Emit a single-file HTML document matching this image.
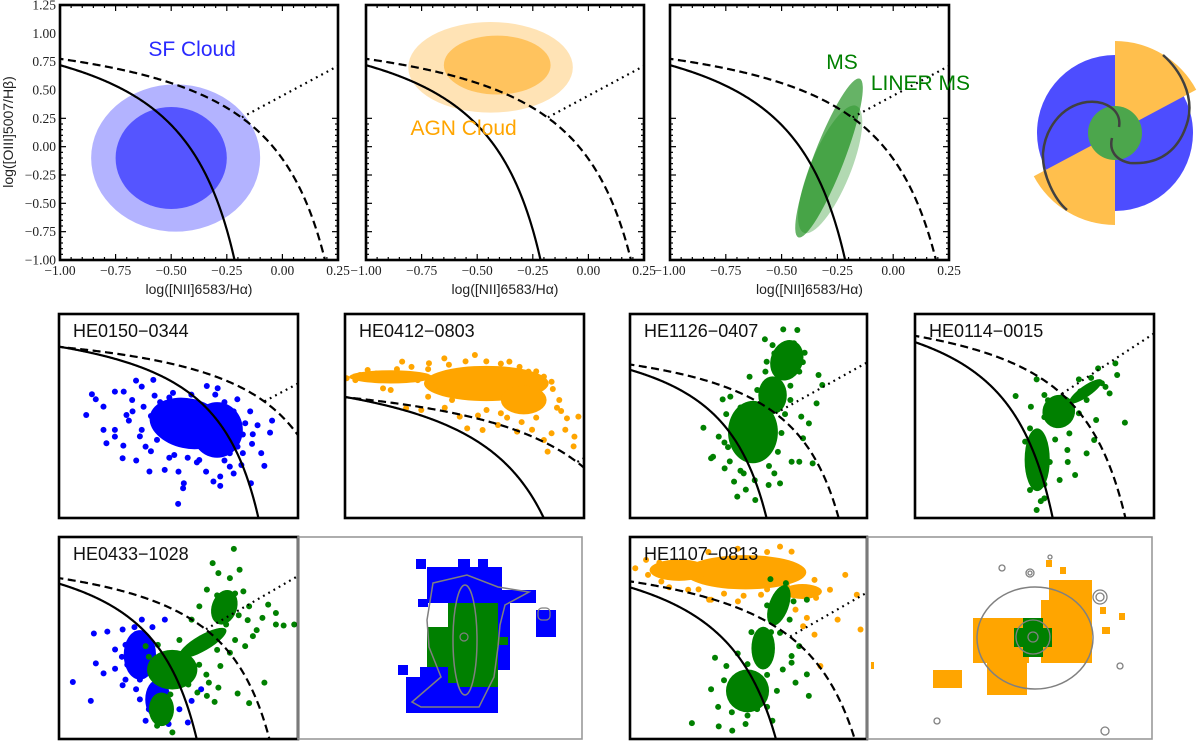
<!DOCTYPE html>
<html><head><meta charset="utf-8"><style>
html,body{margin:0;padding:0;background:#fff;overflow:hidden;width:1200px;height:744px;}
svg{display:block;}
.serif{font-family:"Liberation Serif","DejaVu Serif",serif;}
.sans{font-family:"Liberation Sans","DejaVu Sans",sans-serif;}
</style></head><body>
<svg id="fig" width="1200" height="744" viewBox="0 0 1200 744" xmlns="http://www.w3.org/2000/svg">
<defs id="defs"></defs>
</svg>
<script>
// ---------- data ----------
const xTickVals=[-1.00,-0.75,-0.50,-0.25,0.00,0.25];
const xTickLabels=["\u22121.00","\u22120.75","\u22120.50","\u22120.25","0.00","0.25"];
const yTickVals=[-1.00,-0.75,-0.50,-0.25,0.00,0.25,0.50,0.75,1.00,1.25];
const yTickLabels=["\u22121.00","\u22120.75","\u22120.50","\u22120.25","0.00","0.25","0.50","0.75","1.00","1.25"];
// top-row cloud ellipses [cx, cy, rx, ry] in data units
const sfOuter=[-0.48,-0.10,0.38,0.65];
const sfInner=[-0.50,-0.10,0.25,0.45];
const agnOuter=[-0.44,0.70,0.37,0.40];
const agnInner=[-0.41,0.72,0.24,0.26];
// MS regions: [xTop, yTop, xBottom, yBottom, halfWidth(x units)]
const msRegion=[-0.150,0.600,-0.425,-0.800,0.068];
const linerRegion=[-0.165,0.360,-0.400,-0.760,0.090];

const pointsHE0150=[[-1.152,0.111],[-1.121,0.334],[-1.100,0.280],[-1.058,-0.050],[-1.042,-0.194],[-0.996,-0.122],[-0.954,-0.356],[-0.933,0.111],[-0.881,0.482],[-0.808,-0.499],[-0.787,0.489],[-0.725,-0.481],[-0.652,-0.848],[-0.625,-0.679],[-0.621,-0.625],[-0.460,-0.607],[-0.423,-0.654],[-0.423,-0.553],[-0.371,-0.446],[-0.308,-0.428],[-0.256,-0.625],[-0.183,-0.438],[-0.152,-0.079],[-0.141,0.050],[-0.246,-0.097],[-0.287,0.022],[-0.437,0.399],[-0.496,0.424],[-0.996,0.363],[-0.948,0.363],[-1.058,0.201],[-0.829,-0.230],[-0.767,-0.158],[-0.673,-0.320],[-0.537,-0.374],[-0.371,-0.302],[-0.329,-0.230],[-0.996,-0.050],[-0.902,0.273],[-0.850,0.417],[-0.80,0.10],[-0.75,0.25],[-0.70,0.30],[-0.40,0.25],[-0.35,0.15],[-0.30,-0.10],[-0.45,-0.30],[-0.60,-0.35],[-0.85,-0.05],[-0.90,0.15],
[-0.84,0.20],[-0.86,-0.12],[-0.80,-0.28],[-0.70,-0.35],[-0.55,-0.40],[-0.40,-0.38],[-0.30,-0.30],[-0.25,-0.20],[-0.22,0.00],[-0.26,0.15],[-0.33,0.28],[-0.45,0.33],[-0.58,0.33],[-0.68,0.35],[-0.78,0.32],[-0.92,0.05],[-0.95,-0.22],[-0.88,-0.38],[-0.65,-0.50],[-0.50,-0.50],[-0.35,-0.52],[-0.20,-0.30]];
const coresHE0150=[[-0.60,0.02,0.21,0.27,12],[-0.44,-0.05,0.14,0.30,0]];
const pointsHE0412=[[-1.292,1.017],[-1.228,1.047],[-1.191,1.092],[-1.117,0.926],[-1.025,1.168],[-1.080,0.911],[-1.006,0.745],[-0.896,1.153],[-0.822,1.198],[-0.675,1.228],[-0.509,1.168],[-0.417,1.077],[-0.343,1.032],[-0.306,0.986],[-0.380,0.820],[-0.269,0.820],[-0.232,0.654],[-0.306,0.518],[-0.196,0.488],[-0.177,0.669],[-0.343,0.457],[-0.325,0.352],[-0.472,0.533],[-0.564,0.593],[-0.638,0.548],[-0.712,0.563],[-0.619,0.729],[-0.748,0.669],[-0.933,0.729],[-0.785,0.820],[-0.95,1.00],[-0.88,0.95],[-0.55,0.70],[-0.45,0.62],[-0.26,0.72],
[-1.25,1.00],[-1.15,1.06],[-1.05,1.10],[-0.98,1.12],[-0.90,1.10],[-0.85,0.90],[-0.80,1.14],[-0.72,1.17],[-0.62,1.17],[-0.55,1.15],[-0.46,1.12],[-0.38,1.08],[-0.30,0.92],[-0.28,0.75],[-0.38,0.66],[-0.52,0.66],[-0.66,0.68],[-0.82,0.75],[-0.90,0.85],[-0.24,0.55],[-0.40,0.55],[-0.20,0.40]];
const coresHE0412=[[-0.62,0.97,0.30,0.16,0],[-1.08,1.03,0.20,0.06,0],[-0.44,0.82,0.11,0.13,0]];
const pointsHE1126=[[-0.588,0.106],[-0.534,-0.201],[-0.545,-0.218],[-0.469,-0.324],[-0.416,-0.465],[-0.398,-0.624],[-0.297,-0.659],[-0.222,-0.500],[-0.158,-0.483],[-0.190,-0.377],[-0.093,-0.254],[-0.050,-0.254],[0.025,-0.271],[-0.029,-0.006],[0.004,0.152],[-0.039,0.223],[0.047,0.364],[0.079,0.558],[0.058,0.664],[-0.061,1.140],[-0.140,1.147],[-0.243,1.042],[-0.190,0.893],[-0.233,0.805],[-0.329,0.646],[-0.286,0.505],[-0.480,0.406],[-0.437,0.435],[-0.502,0.011],[-0.362,-0.377],[-0.45,-0.10],[-0.20,0.10],[-0.10,0.40],[-0.05,0.70],[-0.02,0.90],
[-0.46,0.25],[-0.47,-0.05],[-0.44,-0.25],[-0.38,-0.35],[-0.30,-0.45],[-0.22,-0.30],[-0.17,-0.15],[-0.15,0.05],[-0.17,0.30],[-0.25,0.35],[-0.38,0.32],[-0.10,0.55],[-0.03,0.80],[-0.08,1.00],[-0.20,0.98],[-0.24,0.70],[-0.13,0.25],[-0.35,-0.55]];
const coresHE1126=[[-0.31,0.06,0.14,0.33,0],[-0.12,0.82,0.09,0.22,20],[-0.20,0.45,0.08,0.20,0]];
const pointsHE0114=[[-0.440,0.238],[-0.323,0.387],[-0.280,0.247],[-0.355,0.143],[-0.387,-0.169],[-0.365,-0.452],[-0.323,-0.779],[-0.280,-0.675],[-0.195,-0.511],[-0.109,-0.466],[-0.045,-0.273],[-0.003,-0.154],[0.008,0.024],[-0.045,0.203],[-0.088,0.387],[0.019,0.485],[0.115,0.530],[0.125,0.426],[0.083,0.262],[0.168,0.001],[-0.141,-0.095],[-0.088,0.084],[0.040,0.352],[-0.152,-0.243],[-0.36,-0.60],[-0.30,-0.70],
[-0.36,-0.05],[-0.35,-0.35],[-0.28,-0.55],[-0.25,-0.35],[-0.22,-0.15],[-0.28,0.05],[-0.26,0.20],[-0.12,0.20],[-0.08,0.28],[-0.02,0.40],[0.06,0.32],[-0.15,-0.35],[-0.33,-0.20]];
const coresHE0114=[[-0.32,-0.33,0.07,0.28,0],[-0.20,0.10,0.09,0.15,30],[-0.05,0.28,0.11,0.05,-35]];
const bluePointsHE0433=[[-0.806,0.215],[-0.795,-0.086],[-0.752,-0.187],[-0.688,-0.140],[-0.646,-0.307],[-0.571,-0.348],[-0.518,-0.666],[-0.475,-0.582],[-0.390,-0.699],[-0.283,-0.683],[-0.262,-0.465],[-0.209,-0.348],[-0.923,-0.274],[-0.823,-0.465],[-0.731,0.235],[-0.646,0.256],[-0.539,0.356],[-0.411,0.356],[-0.688,0.054],[-0.60,0.15],[-0.62,-0.10],[-0.55,-0.25],
[-0.65,-0.02],[-0.63,0.10],[-0.58,0.28],[-0.48,0.28],[-0.63,-0.25],[-0.55,-0.45],[-0.50,-0.55],[-0.40,-0.60],[-0.33,-0.55]];
const blueCoresHE0433=[[-0.55,0.00,0.09,0.25,0],[-0.45,-0.45,0.07,0.20,0]];
const greenPointsHE0433=[[-0.027,1.070],[-0.145,0.926],[-0.113,0.825],[-0.049,0.775],[0.005,0.859],[0.026,0.641],[0.058,0.490],[0.164,0.507],[0.207,0.423],[0.132,0.373],[0.207,0.306],[0.250,0.296],[0.309,0.306],[0.079,0.189],[0.036,0.088],[-0.049,0.021],[-0.102,-0.113],[-0.166,-0.281],[-0.230,-0.381],[-0.177,-0.415],[-0.134,-0.475],[-0.006,-0.391],[0.058,-0.488],[0.143,-0.281],[-0.113,-0.331],[-0.262,0.356],[-0.219,0.490],[-0.177,0.658],[-0.070,0.306],[-0.518,0.088],[-0.454,-0.716],[-0.369,-0.783],[-0.05,0.50],[0.00,0.40],
[-0.12,0.60],[-0.02,0.62],[0.05,0.35],[0.10,0.25],[-0.02,0.15],[-0.12,0.05],[-0.22,-0.10],[-0.28,-0.30],[-0.38,-0.40],[-0.48,-0.20],[-0.50,-0.02],[-0.45,0.10],[-0.33,0.15],[-0.18,-0.20]];
const greenCoresHE0433=[[-0.37,-0.15,0.14,0.20,0],[-0.43,-0.55,0.07,0.17,0],[-0.20,0.12,0.15,0.08,-30],[-0.08,0.48,0.07,0.18,20]];
const orangePointsHE1107=[[-0.973,0.898],[-0.918,0.976],[-0.908,0.836],[-0.840,0.774],[-0.703,0.696],[-0.586,0.603],[-0.449,0.588],[-0.331,0.650],[-0.234,1.100],[-0.175,1.053],[-0.058,0.789],[0.021,0.696],[0.099,0.836],[0.158,0.650],[0.060,0.417],[0.177,0.324],[-0.058,0.277],[-0.116,0.355],[-0.097,0.433],[-0.155,0.510],[-0.028,-0.017],[-0.596,0.603],[-0.10,0.70],[-0.05,0.62],
[-0.85,0.95],[-0.80,0.72],[-0.65,0.70],[-0.52,0.66],[-0.42,0.64],[-0.30,0.70],[-0.20,0.74],[-0.15,0.65],[-0.06,0.70],[-0.30,1.05],[-0.45,1.08],[-0.60,1.05]];
const orangeCoresHE1107=[[-0.41,0.86,0.31,0.16,0],[-0.75,0.88,0.15,0.10,0],[-0.12,0.68,0.10,0.07,0]];
const greenPointsHE1107=[[-0.684,-0.551],[-0.547,-0.582],[-0.478,-0.622],[-0.410,-0.560],[-0.273,-0.529],[-0.087,-0.297],[-0.097,-0.095],[-0.155,-0.173],[-0.175,0.014],[-0.136,0.169],[-0.185,0.417],[-0.097,0.603],[-0.165,0.588],[-0.283,0.796],[-0.204,0.758],[-0.566,0.060],[-0.586,-0.235],[-0.253,0.417],[-0.234,0.293],[-0.175,0.076],[-0.508,-0.017],[-0.351,-0.421],[-0.45,-0.30],[-0.30,-0.10],
[-0.55,-0.40],[-0.48,-0.45],[-0.40,-0.48],[-0.30,-0.40],[-0.25,-0.25],[-0.22,-0.05],[-0.40,0.00],[-0.45,0.10],[-0.38,0.30],[-0.28,0.30],[-0.30,0.55],[-0.20,0.62],[-0.52,-0.15]];
const greenCoresHE1107=[[-0.24,0.55,0.05,0.20,20],[-0.32,0.15,0.06,0.20,0],[-0.40,-0.25,0.11,0.20,0]];
// spatial maps: pixel blocks [x, y, w, h] relative to map panel
const mapHE0433Blue=[[129,30,75,36],[204,53,34,13],[238,73,20,27],[196,66,16,67],[108,140,92,36],[100,128,10,10],[122,130,40,14],[120,62,10,8],[118,22,10,10],[160,22,12,8],[180,22,10,8]];
const mapHE0433Green=[[150,66,50,80],[129,90,21,40],[160,120,40,30],[200,100,10,8]];
const mapHE1107Orange=[[106,81,56,45],[120,126,40,32],[182,43,43,20],[174,63,51,63],[66,133,29,18],[4,125,3,7],[179,23,6,7],[193,30,6,7],[233,70,6,7],[252,76,6,7],[235,90,8,7]];
const mapHE1107Green=[[156,81,20,39],[147,91,38,19]];

// ---------- helpers ----------
const NS='http://www.w3.org/2000/svg';
const svg=document.getElementById('fig');
function mk(tag,attrs,parent){const e=document.createElementNS(NS,tag);for(const k in attrs)e.setAttribute(k,attrs[k]);(parent||svg).appendChild(e);return e;}
function sx(p,v){return p.px0+(v-p.x0)/(p.x1-p.x0)*(p.px1-p.px0);}
function sy(p,v){return p.py1-(v-p.y0)/(p.y1-p.y0)*(p.py1-p.py0);}
const kauff=x=>0.61/(x-0.05)+1.3;
const kewley=x=>0.61/(x-0.47)+1.19;
const schaw=x=>1.05*x+0.45;
let clipId=0;

function drawCurves(p,g){
  const cid='clip'+(clipId++);
  const cp=mk('clipPath',{id:cid},document.getElementById('defs'));
  mk('rect',{x:p.px0,y:p.py0,width:p.px1-p.px0,height:p.py1-p.py0},cp);
  const cg=mk('g',{'clip-path':'url(#'+cid+')'},g);
  
  
  function path(fn,xa,xb,dash,name){
    let d='';const n=300;let started=false;
    for(let i=0;i<=n;i++){
      const x=xa+(xb-xa)*i/n;const Y=sy(p,fn(x));const X=sx(p,x);
      d+=(started?'L':'M')+X.toFixed(2)+','+Math.min(Y,p.py1+4).toFixed(2);started=true;
      if(Y>p.py1+4)break;
    }
    const e=mk('path',{d:d,fill:'none',stroke:'#000','stroke-width':2.2,'stroke-dasharray':dash},cg);
    
    
  }
  path(kauff,p.x0-0.02,Math.min(p.x1,0.04),'none','kauffmann-line');
  path(kewley,p.x0-0.02,Math.min(p.x1,0.46),'8,4.5','kewley-line');
  path(schaw,-0.182,p.x1+0.02,'1.8,4.2','schawinski-line');
  return cg;
}
function drawCores(p,g,cores,color,name){
  cores.forEach(c=>{
    const cx=sx(p,c[0]),cy=sy(p,c[1]);
    const rx=c[2]/(p.x1-p.x0)*(p.px1-p.px0), ry=c[3]/(p.y1-p.y0)*(p.py1-p.py0);
    const e=mk('ellipse',{cx:cx,cy:cy,rx:rx,ry:ry,fill:color,transform:'rotate('+c[4]+' '+cx+' '+cy+')'},g);
    
    
  });
}
function drawPoints(p,g,pts,color,name){
  pts.forEach(q=>{
    const e=mk('circle',{cx:sx(p,q[0]),cy:sy(p,q[1]),r:3,fill:color},g);
    
    
  });
}
function frame(p,g,w,color){
  const e=mk('rect',{x:p.px0,y:p.py0,width:p.px1-p.px0,height:p.py1-p.py0,fill:'none',stroke:color||'#000','stroke-width':w},g);
  
  
}

// ---------- top row ----------
const tops=[
 {px0:60,px1:338,py0:5,py1:260,x0:-1,x1:0.25,y0:-1,y1:1.25,name:'sf-cloud-panel',ylab:true},
 {px0:366,px1:644,py0:5,py1:260,x0:-1,x1:0.25,y0:-1,y1:1.25,name:'agn-cloud-panel'},
 {px0:670,px1:949,py0:5,py1:260,x0:-1,x1:0.25,y0:-1,y1:1.25,name:'ms-panel'}
];
tops.forEach((p,i)=>{
  const g=mk('g',{});
  
  
  function ell(a,color,name){
    const e=mk('ellipse',{cx:sx(p,a[0]),cy:sy(p,a[1]),rx:a[2]/(p.x1-p.x0)*(p.px1-p.px0),ry:a[3]/(p.y1-p.y0)*(p.py1-p.py0),fill:color},g);
    
    
  }
  function band(a,color,name){
    const x1=sx(p,a[0]),y1=sy(p,a[1]),x2=sx(p,a[2]),y2=sy(p,a[3]);
    const cx=(x1+x2)/2,cy=(y1+y2)/2,len=Math.hypot(x2-x1,y2-y1);
    const ang=Math.atan2(y2-y1,x2-x1)*180/Math.PI;
    const hw=a[4]/(p.x1-p.x0)*(p.px1-p.px0);
    const e=mk('ellipse',{cx:cx,cy:cy,rx:len/2,ry:hw,fill:color,transform:'rotate('+ang+' '+cx+' '+cy+')'},g);
    
    
  }
  if(i===0){ell(sfOuter,'#b3b3ff','sf-cloud-outer');ell(sfInner,'#5555ff','sf-cloud-inner');}
  if(i===1){ell(agnOuter,'#ffe3b5','agn-cloud-outer');ell(agnInner,'#ffc35e','agn-cloud-inner');}
  if(i===2){band(linerRegion,'rgba(0,128,0,0.30)','liner-ms-region');band(msRegion,'rgba(0,128,0,0.60)','ms-region');}
  drawCurves(p,g);
  const tg=mk('g',{stroke:'#000','stroke-width':1.2},g);
  
  
  for(let k=0;k<=25;k++){
    const v=-1+k*0.05;const maj=(k%5===0);const L=maj?6:3;
    const X=sx(p,v);
    mk('line',{x1:X,y1:p.py1,x2:X,y2:p.py1-L},tg);mk('line',{x1:X,y1:p.py0,x2:X,y2:p.py0+L},tg);
    const Y=sy(p,v);
    mk('line',{x1:p.px0,y1:Y,x2:p.px0+L,y2:Y},tg);mk('line',{x1:p.px1,y1:Y,x2:p.px1-L,y2:Y},tg);
  }
  frame(p,g,2.6);
  xTickVals.forEach((v,k)=>{
    const t=mk('text',{x:sx(p,v),y:275,'text-anchor':'middle','font-size':13.5,class:'serif',fill:'#222'},g);
    t.textContent=xTickLabels[k];
    
    
  });
  const xt=mk('text',{x:(p.px0+p.px1)/2,y:294,'text-anchor':'middle','font-size':14,class:'sans',fill:'#222'},g);
  xt.textContent='log([NII]6583/H\u03b1)';
  
  
  if(p.ylab){
    yTickVals.forEach((v,k)=>{
      const t=mk('text',{x:56,y:sy(p,v)+4.5,'text-anchor':'end','font-size':13.5,class:'serif',fill:'#222'},g);
      t.textContent=yTickLabels[k];
      
      
    });
    const yt=mk('text',{x:0,y:0,'text-anchor':'middle','font-size':14,class:'sans',fill:'#222',transform:'translate(13,132) rotate(-90)'},g);
    yt.textContent='log([OIII]5007/H\u03b2)';
    
    
  }
});
function label(p,x,y,txt,color,anchor,name){
  const t=mk('text',{x:sx(p,x),y:sy(p,y)+7,'text-anchor':anchor,'font-size':21,class:'sans',fill:color});
  t.textContent=txt;
  
  
}
label(tops[0],-0.406,0.862,'SF Cloud','#2a2aff','middle','sf-cloud-label');
label(tops[1],-0.80,0.165,'AGN Cloud','#ffa500','start','agn-cloud-label');
label(tops[2],-0.30,0.747,'MS','#008000','start','ms-label');
label(tops[2],-0.10,0.562,'LINER MS','#008000','start','liner-ms-label');

// ---------- galaxy schematic ----------
(function(){
  const g=mk('g',{});
  
  
  const cx=1115,cy=133;
  const c=mk('circle',{cx:cx,cy:cy,r:78,fill:'#4d4dff'},g);
  
  
  function wedge(a1,a2,r,name){
    const p1=[cx+r*Math.cos(a1*Math.PI/180),cy-r*Math.sin(a1*Math.PI/180)];
    const p2=[cx+r*Math.cos(a2*Math.PI/180),cy-r*Math.sin(a2*Math.PI/180)];
    const e=mk('path',{d:'M'+cx+','+cy+'L'+p1+'A'+r+','+r+' 0 0 1 '+p2+'Z',fill:'#ffbf4d'},g);
    
    
  }
  wedge(90,28,92,'agn-cone-upper');
  wedge(270,208,92,'agn-cone-lower');
  const b=mk('circle',{cx:cx,cy:cy,r:27,fill:'#4ca64c'},g);
  
  
  const s1=mk('path',{d:'M1119,127 C1122,110 1105,100 1087,102 C1060,106 1045,130 1043,153 C1042,175 1055,200 1067,210',fill:'none',stroke:'#404040','stroke-width':2.5},g);
  
  
  const s2=mk('path',{d:'M1112,138 C1109,150 1115,160 1130,163 C1160,165 1180,150 1188,120 C1194,95 1180,70 1163,55',fill:'none',stroke:'#404040','stroke-width':2.5},g);
  
  
})();

// ---------- small scatter panels ----------
const smalls=[
 {px0:59,px1:298,py0:314,py1:518,x0:-1.3,x1:0,y0:-1,y1:1.2,title:'HE0150\u22120344',sets:[[coresHE0150,pointsHE0150,'#0000ff']]},
 {px0:345,px1:584,py0:314,py1:518,x0:-1.3,x1:-0.15,y0:-0.25,y1:1.6,title:'HE0412\u22120803',sets:[[coresHE0412,pointsHE0412,'#ffa500']]},
 {px0:630,px1:867,py0:314,py1:518,x0:-1,x1:0.33,y0:-0.85,y1:1.31,title:'HE1126\u22120407',sets:[[coresHE1126,pointsHE1126,'#008000']]},
 {px0:915,px1:1154,py0:314,py1:518,x0:-1,x1:0.33,y0:-0.85,y1:0.97,title:'HE0114\u22120015',sets:[[coresHE0114,pointsHE0114,'#008000']]},
 {px0:59,px1:298,py0:537,py1:739,x0:-1,x1:0.33,y0:-0.85,y1:1.19,title:'HE0433\u22121028',sets:[[blueCoresHE0433,bluePointsHE0433,'#0000ff'],[greenCoresHE0433,greenPointsHE0433,'#008000']]},
 {px0:630,px1:867,py0:537,py1:739,x0:-1,x1:0.21,y0:-0.7,y1:1.19,title:'HE1107\u22120813',sets:[[orangeCoresHE1107,orangePointsHE1107,'#ffa500'],[greenCoresHE1107,greenPointsHE1107,'#008000']]}
];
smalls.forEach(p=>{
  const g=mk('g',{});
  
  
  const cid='clip'+(clipId++);
  const cp=mk('clipPath',{id:cid},document.getElementById('defs'));
  mk('rect',{x:p.px0,y:p.py0,width:p.px1-p.px0,height:p.py1-p.py0},cp);
  const dg=mk('g',{'clip-path':'url(#'+cid+')'},g);
  
  
  p.sets.forEach(s=>{drawCores(p,dg,s[0],s[2],'density-core');drawPoints(p,dg,s[1],s[2],'spaxel-point');});
  drawCurves(p,g);
  frame(p,g,2.6);
  const t=mk('text',{x:p.px0+14,y:p.py0+23,'font-size':18,class:'sans',fill:'#111'},g);
  t.textContent=p.title;
  
  
});

// ---------- spatial maps ----------
function mapPanel(x0,y0,w,h,blocks,name){
  const g=mk('g',{});
  
  
  blocks.forEach(b=>{
    b[0].forEach(r=>{
      const e=mk('rect',{x:x0+r[0],y:y0+r[1],width:r[2],height:r[3],fill:b[1]},g);
      
      
    });
  });
  const fr=mk('rect',{x:x0,y:y0,width:w,height:h,fill:'none',stroke:'#999','stroke-width':1.6},g);
  
  
  return g;
}
const m1=mapPanel(298,537,284,202,[[mapHE0433Blue,'#0000ff'],[mapHE0433Green,'#008000']],'map-he0433');
const c1=mk('path',{d:'M433,583 L467,575 L498,587 L529,592 L505,605 L500,625 L498,647 L494,677 L479,707 L421,707 L412,702 L441,677 L429,647 L427,620 Z',fill:'none',stroke:'#808080','stroke-width':1.5},m1);


const c1b=mk('ellipse',{cx:465,cy:640,rx:12,ry:55,fill:'none',stroke:'#808080','stroke-width':1.5},m1);


const c1c=mk('circle',{cx:464,cy:637,r:4,fill:'none',stroke:'#808080','stroke-width':1.2},m1);


const c1d=mk('rect',{x:538,y:608,width:12,height:12,rx:4,fill:'none',stroke:'#808080','stroke-width':1.2},m1);



const m2=mapPanel(867,537,285,202,[[mapHE1107Orange,'#ffa500'],[mapHE1107Green,'#008000']],'map-he1107');
const c2=mk('ellipse',{cx:1035,cy:638,rx:58,ry:51,fill:'none',stroke:'#808080','stroke-width':1.5},m2);


[[1033,637,17],[1033,637,5],[1002,568,3],[1030,573,4],[1030,573,2],[1100,597,7],[1100,597,4],[1120,666,3],[937,721,3],[1105,731,4],[1050,557,2]].forEach(c=>{
  const e=mk('circle',{cx:c[0],cy:c[1],r:c[2],fill:'none',stroke:'#808080','stroke-width':1.3},m2);
  
  
});
</script>
</body></html>
